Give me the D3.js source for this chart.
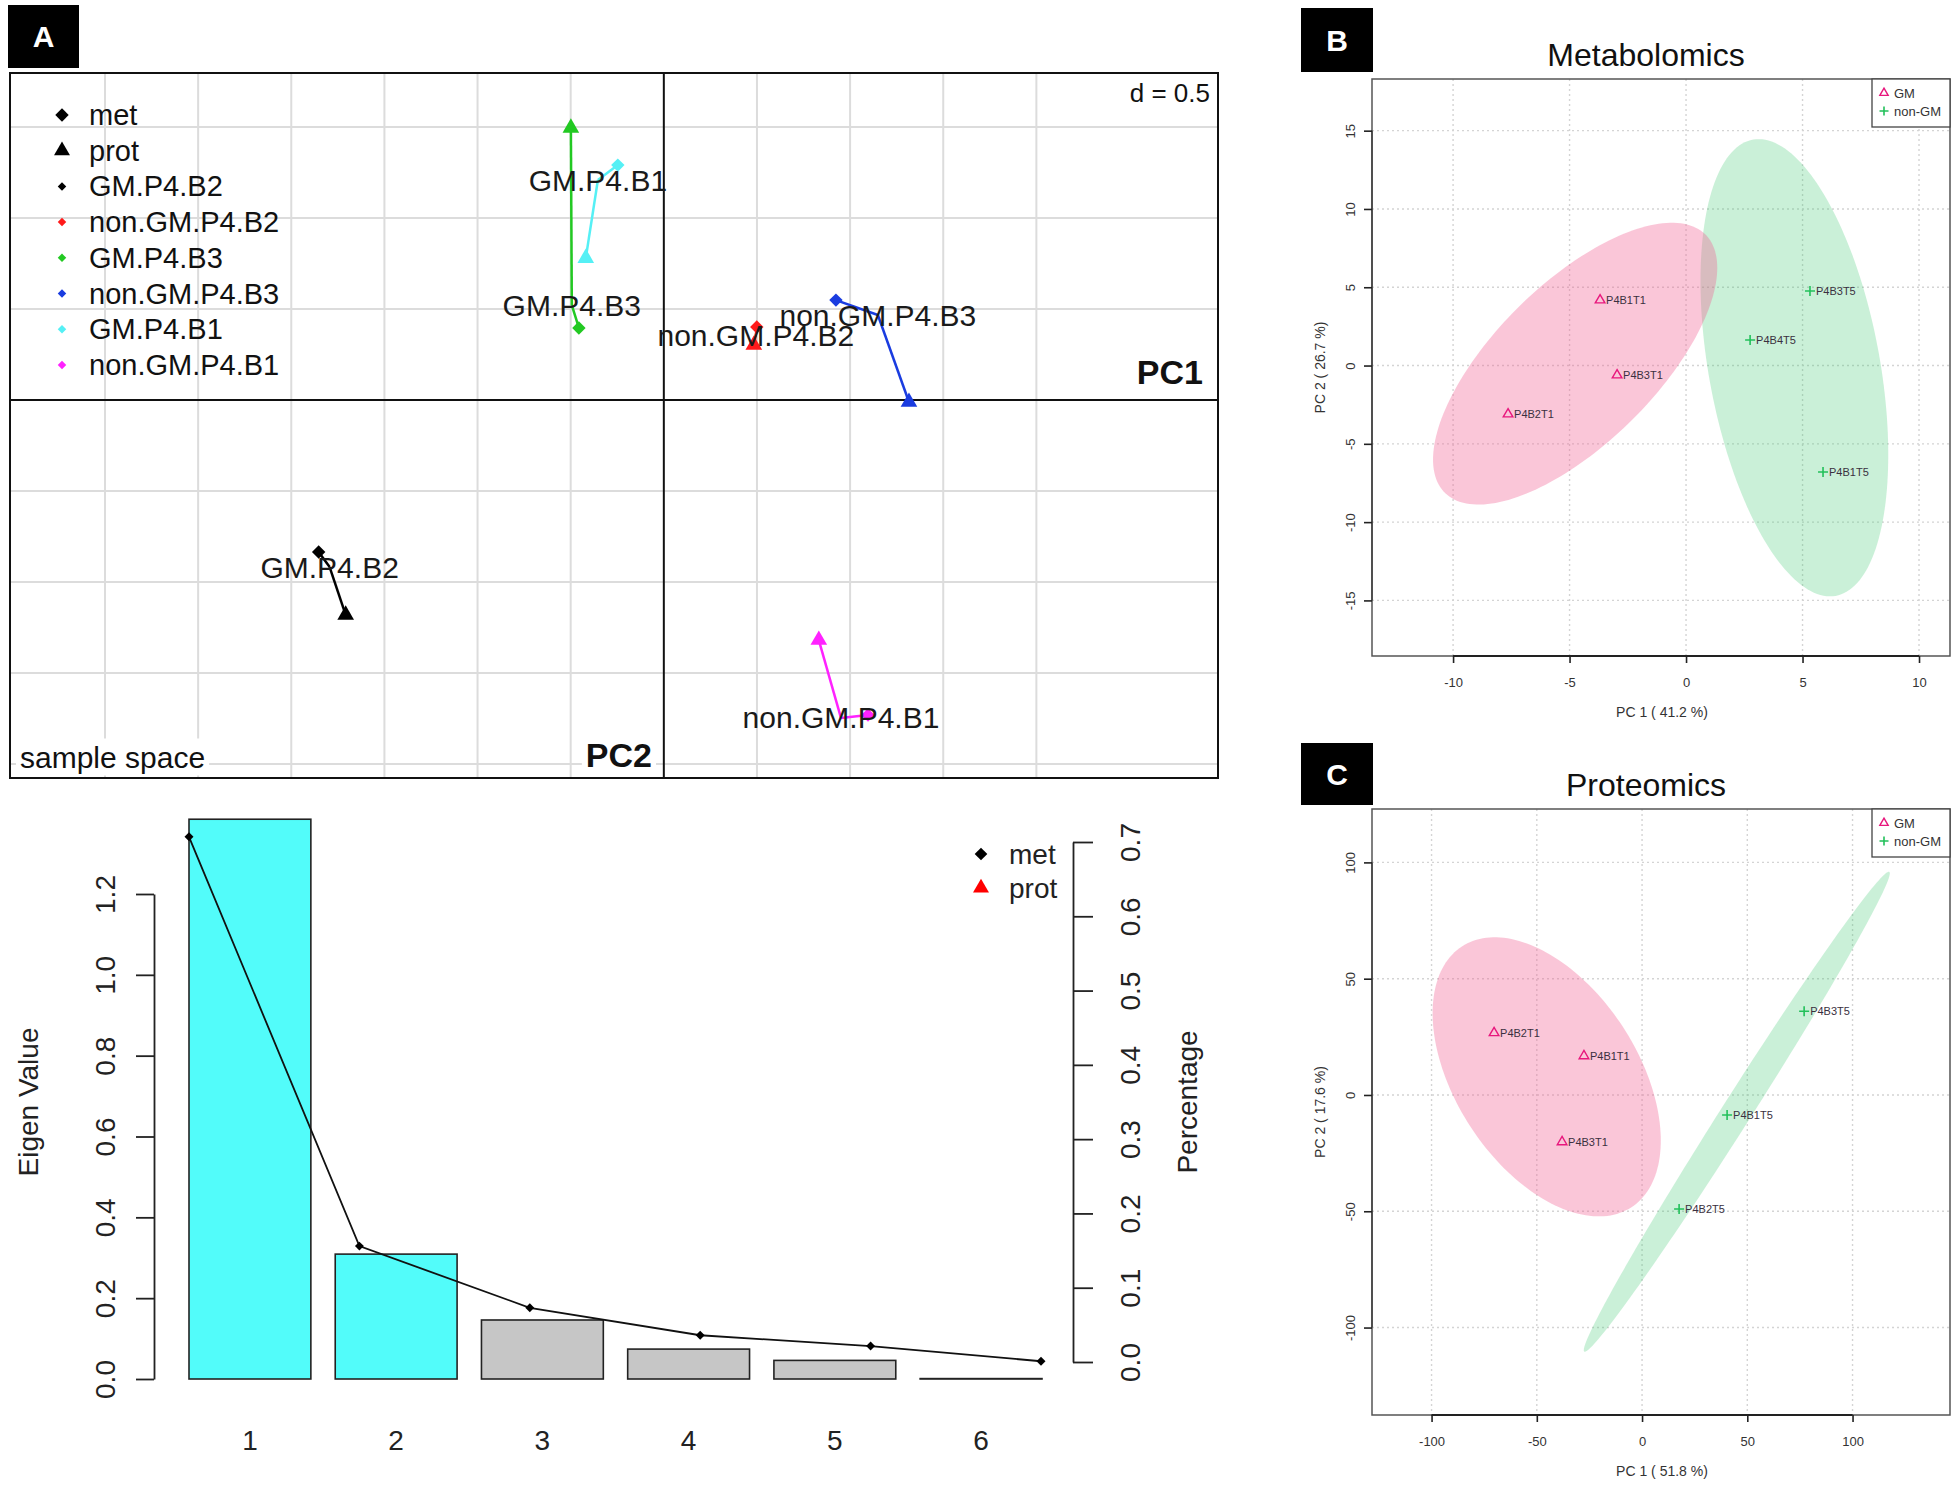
<!DOCTYPE html>
<html>
<head>
<meta charset="utf-8">
<script src="https://cdn.jsdelivr.net/npm/d3@7"></script>
<style>
body { margin: 0; background: #fff; }
svg { display: block; }
text { font-family: "Liberation Sans", Arial, sans-serif; }
</style>
</head>
<body>
<div id="vis"></div>
<script>
// ---- panel A, sample space (units of the ade4 plot, d = 0.5) ----
var samples = ['GM.P4.B2', 'non.GM.P4.B2', 'GM.P4.B3', 'non.GM.P4.B3', 'GM.P4.B1', 'non.GM.P4.B1'];
var refX  = [-1.794, 0.494, -0.494, 1.149, -0.354, 0.951];
var refY  = [-0.918, 0.357, 0.522, 0.467, 1.209, -1.747];
var metX  = [-1.853, 0.499, -0.456, 0.924, -0.247, 1.096];
var metY  = [-0.835, 0.401, 0.396, 0.549, 1.291, -1.731];
var protX = [-1.708, 0.483, -0.499, 1.316, -0.419, 0.832];
var protY = [-1.181, 0.302, 1.495, -0.011, 0.780, -1.319];
var gridStep = 0.5;

// ---- panel A, eigen values ----
var axesLabels = ['1', '2', '3', '4', '5', '6'];
var eigenValues = [1.385, 0.309, 0.146, 0.074, 0.046, 0.001];
var percentMet = [0.707, 0.156, 0.073, 0.036, 0.0215, 0.001];
var eigenTicks = [0, 0.2, 0.4, 0.6, 0.8, 1.0, 1.2];
var percentTicks = [0, 0.1, 0.2, 0.3, 0.4, 0.5, 0.6, 0.7];
var keptAxes = 2;

// ---- panel B, metabolomics ----
var metabNames = ['P4B1T1', 'P4B3T1', 'P4B2T1', 'P4B3T5', 'P4B4T5', 'P4B1T5'];
var metabGroup = ['GM', 'GM', 'GM', 'non-GM', 'non-GM', 'non-GM'];
var metabPC1 = [-3.69, -2.96, -7.64, 5.32, 2.75, 5.88];
var metabPC2 = [4.18, -0.61, -3.1, 4.76, 1.63, -6.8];
// ellipse: centre, half extent in x and y, correlation
var metabEllipseGM = [-4.76, 0.12, 6.1, 9.0, 0.68];
var metabEllipseNonGM = [4.65, -0.14, 4.03, 14.6, -0.38];
var metabXTicks = [-10, -5, 0, 5, 10];
var metabYTicks = [-15, -10, -5, 0, 5, 10, 15];

// ---- panel C, proteomics ----
var protNames = ['P4B2T1', 'P4B1T1', 'P4B3T1', 'P4B3T5', 'P4B1T5', 'P4B2T5'];
var protGroup = ['GM', 'GM', 'GM', 'non-GM', 'non-GM', 'non-GM'];
var protPC1 = [-70.3, -27.6, -38, 77, 40.4, 17.6];
var protPC2 = [26.7, 16.8, -20.2, 36, -8.6, -49];
var protEllipseGM = [-45.3, 7.8, 54.2, 60.0, -0.456];
var protEllipseNonGM = [45, -7.2, 72.7, 103.2, 0.9935];
var protXTicks = [-100, -50, 0, 50, 100];
var protYTicks = [-100, -50, 0, 50, 100];

var sampleColours = ['#000000', '#ff1a1a', '#22c922', '#1a3ce0', '#55f0f5', '#ff22ff'];
var groupColours = { 'GM': '#e8177d', 'non-GM': '#22c05a' };
var ellipseFill = { 'GM': 'rgba(240,98,146,0.36)', 'non-GM': 'rgba(60,200,110,0.27)' };

var width = 1960;
var height = 1491;

var svg = d3.select('#vis')
    .append('svg')
    .attr('width', width)
    .attr('height', height);

function letterBox(x, y, w, h, letter) {
    svg.append('rect')
        .attr('x', x).attr('y', y).attr('width', w).attr('height', h)
        .attr('fill', '#000');
    svg.append('text')
        .attr('x', x + w / 2).attr('y', y + h / 2)
        .attr('text-anchor', 'middle')
        .attr('dominant-baseline', 'central')
        .attr('fill', '#fff')
        .attr('font-weight', 'bold')
        .attr('font-size', 30)
        .text(letter);
}

// text with a white box behind it
function boxedText(g, x, y, txt, anchor, size, weight) {
    var t = g.append('text')
        .attr('x', x).attr('y', y)
        .attr('text-anchor', anchor)
        .attr('dominant-baseline', 'central')
        .attr('font-size', size)
        .attr('font-weight', weight || 'normal')
        .attr('fill', '#111')
        .text(txt);
    var bb = t.node().getBBox();
    g.insert('rect', function() { return t.node(); })
        .attr('x', bb.x - 4).attr('y', bb.y - 2)
        .attr('width', bb.width + 8).attr('height', bb.height + 4)
        .attr('fill', '#fff');
}

function symbolPath(type, size) {
    return d3.symbol().type(type).size(size)();
}

letterBox(8, 5, 71, 63, 'A');
letterBox(1301, 8, 72, 64, 'B');
letterBox(1301, 743, 72, 62, 'C');

// ================= panel A : sample space =================
var gA = svg.append('g');
var xA = d3.scaleLinear().domain([-3.51, 2.975]).range([10, 1218]);
var yA = d3.scaleLinear().domain([-2.077, 1.797]).range([778, 73]);

d3.range(-3, 2 + 1e-6, gridStep).filter(function(v) { return Math.abs(v) > 1e-6; })
    .forEach(function(v) {
        gA.append('line')
            .attr('x1', xA(v)).attr('x2', xA(v))
            .attr('y1', yA.range()[1]).attr('y2', yA.range()[0])
            .attr('stroke', '#dcdcdc').attr('stroke-width', 2);
    });
d3.range(-2, 1.5 + 1e-6, gridStep).filter(function(v) { return Math.abs(v) > 1e-6; })
    .forEach(function(v) {
        gA.append('line')
            .attr('x1', xA.range()[0]).attr('x2', xA.range()[1])
            .attr('y1', yA(v)).attr('y2', yA(v))
            .attr('stroke', '#dcdcdc').attr('stroke-width', 2);
    });

boxedText(gA, 1210, 93, 'd = 0.5', 'end', 26);
boxedText(gA, 20, 757, 'sample space', 'start', 30);
boxedText(gA, 652, 755, 'PC2', 'end', 34, 'bold');
boxedText(gA, 1203, 372, 'PC1', 'end', 34, 'bold');

gA.append('line')
    .attr('x1', xA(0)).attr('x2', xA(0))
    .attr('y1', yA.range()[1]).attr('y2', yA.range()[0])
    .attr('stroke', '#111').attr('stroke-width', 2);
gA.append('line')
    .attr('x1', xA.range()[0]).attr('x2', xA.range()[1])
    .attr('y1', yA(0)).attr('y2', yA(0))
    .attr('stroke', '#111').attr('stroke-width', 2);
gA.append('rect')
    .attr('x', xA.range()[0]).attr('y', yA.range()[1])
    .attr('width', xA.range()[1] - xA.range()[0])
    .attr('height', yA.range()[0] - yA.range()[1])
    .attr('fill', 'none').attr('stroke', '#111').attr('stroke-width', 2);

// legend
var legA = gA.append('g');
var legRows = ['met', 'prot'].concat(samples);
legRows.forEach(function(name, i) {
    var y = 115 + i * 35.7;
    if (i === 0) {
        legA.append('path').attr('d', symbolPath(d3.symbolSquare, 90))
            .attr('transform', 'translate(62,' + y + ') rotate(45)').attr('fill', '#000');
    } else if (i === 1) {
        legA.append('path').attr('d', symbolPath(d3.symbolTriangle, 110))
            .attr('transform', 'translate(62,' + y + ')').attr('fill', '#000');
    } else {
        legA.append('path').attr('d', symbolPath(d3.symbolSquare, 36))
            .attr('transform', 'translate(62,' + y + ') rotate(45)').attr('fill', sampleColours[i - 2]);
    }
    legA.append('text')
        .attr('x', 89).attr('y', y)
        .attr('dominant-baseline', 'central')
        .attr('font-size', 29)
        .attr('fill', '#111')
        .text(name);
});

// matched points
samples.forEach(function(name, i) {
    var c = sampleColours[i];
    gA.append('line')
        .attr('x1', xA(refX[i])).attr('y1', yA(refY[i]))
        .attr('x2', xA(metX[i])).attr('y2', yA(metY[i]))
        .attr('stroke', c).attr('stroke-width', 2.5);
    gA.append('line')
        .attr('x1', xA(refX[i])).attr('y1', yA(refY[i]))
        .attr('x2', xA(protX[i])).attr('y2', yA(protY[i]))
        .attr('stroke', c).attr('stroke-width', 2.5);
    gA.append('path').attr('d', symbolPath(d3.symbolSquare, 90))
        .attr('transform', 'translate(' + xA(metX[i]) + ',' + yA(metY[i]) + ') rotate(45)')
        .attr('fill', c);
    gA.append('path').attr('d', symbolPath(d3.symbolTriangle, 120))
        .attr('transform', 'translate(' + xA(protX[i]) + ',' + yA(protY[i]) + ')')
        .attr('fill', c);
});
samples.forEach(function(name, i) {
    gA.append('text')
        .attr('x', xA(refX[i])).attr('y', yA(refY[i]))
        .attr('text-anchor', 'middle')
        .attr('dominant-baseline', 'central')
        .attr('font-size', 30)
        .attr('fill', '#1a1a1a')
        .text(name);
});

// ================= panel A : eigen values =================
var gE = svg.append('g');
var xBar = d3.scaleLinear().domain([0.2, 7.2]).range([189, 1042]);
var xPt = d3.scaleLinear().domain([1, 6]).range([189, 1041]);
var yEig = d3.scaleLinear().domain([0, 1.2]).range([1379, 894]);
var yPct = d3.scaleLinear().domain([0, 0.7]).range([1362, 842]);

gE.selectAll('.bar')
    .data(eigenValues)
    .enter()
    .append('rect')
    .attr('class', 'bar')
    .attr('x', function(d, i) { return xBar(0.2 + 1.2 * i); })
    .attr('width', xBar(1.2) - xBar(0.2))
    .attr('y', function(d) { return yEig(d); })
    .attr('height', function(d) { return yEig(0) - yEig(d); })
    .attr('fill', function(d, i) { return i < keptAxes ? '#52fcfa' : '#c6c6c6'; })
    .attr('stroke', '#222').attr('stroke-width', 1.6);

gE.selectAll('.xlab')
    .data(axesLabels)
    .enter()
    .append('text')
    .attr('class', 'xlab')
    .attr('x', function(d, i) { return xBar(0.7 + 1.2 * i); })
    .attr('y', 1440)
    .attr('text-anchor', 'middle')
    .attr('dominant-baseline', 'central')
    .attr('font-size', 28)
    .attr('fill', '#222')
    .text(function(d) { return d; });

var eigAxis = gE.append('g')
    .attr('transform', 'translate(154,0)')
    .call(d3.axisLeft(yEig).tickValues(eigenTicks).tickFormat(d3.format('.1f')).tickSize(18).tickSizeOuter(0));
var pctAxis = gE.append('g')
    .attr('transform', 'translate(1073,0)')
    .call(d3.axisRight(yPct).tickValues(percentTicks).tickFormat(d3.format('.1f')).tickSize(20).tickSizeOuter(0));
[[eigAxis, -49], [pctAxis, 57]].forEach(function(p) {
    p[0].selectAll('path, line').attr('stroke', '#222').attr('stroke-width', 1.8);
    p[0].selectAll('text')
        .attr('x', 0).attr('y', 0).attr('dy', null)
        .attr('text-anchor', 'middle')
        .attr('dominant-baseline', 'central')
        .attr('transform', 'translate(' + p[1] + ',0) rotate(-90)')
        .attr('font-size', 28)
        .attr('fill', '#222');
});

gE.append('text')
    .attr('transform', 'translate(28,1102) rotate(-90)')
    .attr('text-anchor', 'middle').attr('dominant-baseline', 'central')
    .attr('font-size', 28).attr('fill', '#222')
    .text('Eigen Value');
gE.append('text')
    .attr('transform', 'translate(1187,1102) rotate(-90)')
    .attr('text-anchor', 'middle').attr('dominant-baseline', 'central')
    .attr('font-size', 28).attr('fill', '#222')
    .text('Percentage');

var pctLine = d3.line()
    .x(function(d, i) { return xPt(i + 1); })
    .y(function(d) { return yPct(d); });
gE.append('path')
    .datum(percentMet)
    .attr('d', pctLine)
    .attr('fill', 'none').attr('stroke', '#111').attr('stroke-width', 1.8);
gE.selectAll('.pt')
    .data(percentMet)
    .enter()
    .append('path')
    .attr('class', 'pt')
    .attr('d', symbolPath(d3.symbolSquare, 40))
    .attr('transform', function(d, i) { return 'translate(' + xPt(i + 1) + ',' + yPct(d) + ') rotate(45)'; })
    .attr('fill', '#000');

gE.append('path').attr('d', symbolPath(d3.symbolSquare, 80))
    .attr('transform', 'translate(981,854) rotate(45)').attr('fill', '#000');
gE.append('path').attr('d', symbolPath(d3.symbolTriangle, 110))
    .attr('transform', 'translate(981,888)').attr('fill', '#ff0000');
gE.append('text').attr('x', 1009).attr('y', 854).attr('dominant-baseline', 'central')
    .attr('font-size', 28).attr('fill', '#222').text('met');
gE.append('text').attr('x', 1009).attr('y', 888).attr('dominant-baseline', 'central')
    .attr('font-size', 28).attr('fill', '#222').text('prot');

// ================= panels B and C =================
function ellipsePoints(e) {
    var s = Math.sqrt(1 - e[4] * e[4]);
    return d3.range(0, 2 * Math.PI, Math.PI / 90).map(function(t) {
        return [e[0] + e[2] * Math.cos(t), e[1] + e[3] * (e[4] * Math.cos(t) + s * Math.sin(t))];
    });
}

function drawScores(o) {
    var g = svg.append('g');
    var x = d3.scaleLinear().domain(o.xDomain).range([1372, 1950]);
    var y = d3.scaleLinear().domain(o.yDomain).range([o.bottom, o.top]);

    g.append('text')
        .attr('x', 1646).attr('y', o.top - 24)
        .attr('text-anchor', 'middle').attr('dominant-baseline', 'central')
        .attr('font-size', 32).attr('fill', '#111')
        .text(o.title);

    o.xTicks.forEach(function(v) {
        g.append('line').attr('x1', x(v)).attr('x2', x(v))
            .attr('y1', o.top).attr('y2', o.bottom)
            .attr('stroke', '#d4d4d4').attr('stroke-width', 1.4).attr('stroke-dasharray', '2,3');
    });
    o.yTicks.forEach(function(v) {
        g.append('line').attr('x1', 1372).attr('x2', 1950)
            .attr('y1', y(v)).attr('y2', y(v))
            .attr('stroke', '#d4d4d4').attr('stroke-width', 1.4).attr('stroke-dasharray', '2,3');
    });

    var ell = d3.line()
        .x(function(d) { return x(d[0]); })
        .y(function(d) { return y(d[1]); })
        .curve(d3.curveLinearClosed);
    g.append('path').attr('d', ell(ellipsePoints(o.ellNonGM))).attr('fill', ellipseFill['non-GM']);
    g.append('path').attr('d', ell(ellipsePoints(o.ellGM))).attr('fill', ellipseFill['GM']);

    o.names.forEach(function(name, i) {
        var px = x(o.pc1[i]);
        var py = y(o.pc2[i]);
        var c = groupColours[o.group[i]];
        if (o.group[i] === 'GM') {
            g.append('path').attr('d', symbolPath(d3.symbolTriangle, 40))
                .attr('transform', 'translate(' + px + ',' + py + ')')
                .attr('fill', 'none').attr('stroke', c).attr('stroke-width', 1.4);
        } else {
            g.append('path').attr('d', 'M-5,0H5M0,-5V5')
                .attr('transform', 'translate(' + px + ',' + py + ')')
                .attr('stroke', c).attr('stroke-width', 1.6);
        }
        g.append('text')
            .attr('x', px + 6).attr('y', py)
            .attr('dominant-baseline', 'central')
            .attr('font-size', 11).attr('fill', '#3a3040')
            .text(name);
    });

    g.append('rect')
        .attr('x', 1372).attr('y', o.top).attr('width', 578).attr('height', o.bottom - o.top)
        .attr('fill', 'none').attr('stroke', '#555').attr('stroke-width', 1.5);

    // bottom axis
    var xt = o.xTicks;
    g.append('line').attr('x1', x(xt[0])).attr('x2', x(xt[xt.length - 1]))
        .attr('y1', o.bottom).attr('y2', o.bottom)
        .attr('stroke', '#222').attr('stroke-width', 2.2);
    var xa = g.append('g').attr('transform', 'translate(0,' + o.bottom + ')')
        .call(d3.axisBottom(x).tickValues(xt).tickFormat(String).tickSize(7).tickSizeOuter(0));
    xa.select('.domain').remove();
    xa.selectAll('line').attr('stroke', '#222').attr('stroke-width', 1.6);
    xa.selectAll('text').attr('y', 0).attr('dy', null)
        .attr('transform', 'translate(0,26)')
        .attr('dominant-baseline', 'central')
        .attr('font-size', 13).attr('fill', '#333');

    // left axis
    var yt = o.yTicks;
    g.append('line').attr('x1', 1372).attr('x2', 1372)
        .attr('y1', y(yt[0])).attr('y2', y(yt[yt.length - 1]))
        .attr('stroke', '#444').attr('stroke-width', 1.6);
    var ya = g.append('g').attr('transform', 'translate(1372,0)')
        .call(d3.axisLeft(y).tickValues(yt).tickFormat(String).tickSize(8).tickSizeOuter(0));
    ya.select('.domain').remove();
    ya.selectAll('line').attr('stroke', '#222').attr('stroke-width', 1.6);
    ya.selectAll('text')
        .attr('x', 0).attr('y', 0).attr('dy', null)
        .attr('text-anchor', 'middle')
        .attr('dominant-baseline', 'central')
        .attr('transform', 'translate(-22,0) rotate(-90)')
        .attr('font-size', 13).attr('fill', '#333');

    g.append('text')
        .attr('x', 1662).attr('y', o.bottom + 56)
        .attr('text-anchor', 'middle').attr('dominant-baseline', 'central')
        .attr('font-size', 14).attr('fill', '#333')
        .text(o.xLabel);
    g.append('text')
        .attr('transform', 'translate(1320,' + (o.top + o.bottom) / 2 + ') rotate(-90)')
        .attr('text-anchor', 'middle').attr('dominant-baseline', 'central')
        .attr('font-size', 14).attr('fill', '#333')
        .text(o.yLabel);

    // legend
    g.append('rect')
        .attr('x', 1872).attr('y', o.top).attr('width', 78).attr('height', 48)
        .attr('fill', '#fff').attr('stroke', '#444').attr('stroke-width', 1.3);
    g.append('path').attr('d', symbolPath(d3.symbolTriangle, 30))
        .attr('transform', 'translate(1884,' + (o.top + 14) + ')')
        .attr('fill', 'none').attr('stroke', groupColours['GM']).attr('stroke-width', 1.4);
    g.append('path').attr('d', 'M-4.5,0H4.5M0,-4.5V4.5')
        .attr('transform', 'translate(1884,' + (o.top + 32) + ')')
        .attr('stroke', groupColours['non-GM']).attr('stroke-width', 1.6);
    g.append('text').attr('x', 1894).attr('y', o.top + 14)
        .attr('dominant-baseline', 'central').attr('font-size', 13).attr('fill', '#333').text('GM');
    g.append('text').attr('x', 1894).attr('y', o.top + 32)
        .attr('dominant-baseline', 'central').attr('font-size', 13).attr('fill', '#333').text('non-GM');
}

drawScores({
    title: 'Metabolomics',
    top: 79, bottom: 656,
    xDomain: [-13.48, 11.33], yDomain: [-18.55, 18.3],
    xTicks: metabXTicks, yTicks: metabYTicks,
    names: metabNames, group: metabGroup, pc1: metabPC1, pc2: metabPC2,
    ellGM: metabEllipseGM, ellNonGM: metabEllipseNonGM,
    xLabel: 'PC 1 ( 41.2 %)', yLabel: 'PC 2 ( 26.7 %)'
});

drawScores({
    title: 'Proteomics',
    top: 809, bottom: 1415,
    xDomain: [-128.3, 146.3], yDomain: [-137.6, 122.96],
    xTicks: protXTicks, yTicks: protYTicks,
    names: protNames, group: protGroup, pc1: protPC1, pc2: protPC2,
    ellGM: protEllipseGM, ellNonGM: protEllipseNonGM,
    xLabel: 'PC 1 ( 51.8 %)', yLabel: 'PC 2 ( 17.6 %)'
});
</script>
</body>
</html>
